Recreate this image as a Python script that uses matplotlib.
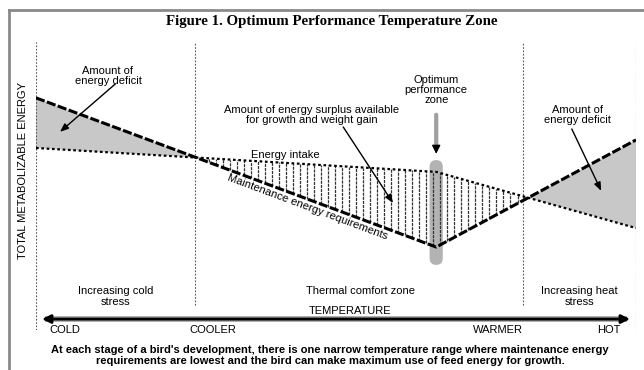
import numpy as np
import matplotlib.pyplot as plt
from matplotlib.patches import FancyBboxPatch

# temperature scale 0 (cold) .. 100 (hot), energy scale 0 .. 100
temp_pts = [0, 66.7, 100]
maintenance = [80.6, 28.8, 66.0]
intake = [63.2, 54.9, 35.4]

zone_edges = [0, 26.5, 81.2, 100]
zone_names = ["Increasing cold\nstress", "Thermal comfort zone", "Increasing heat\nstress"]
temp_labels = ["COLD", "COOLER", "WARMER", "HOT"]
temp_label_x = [4.8, 29.5, 77.0, 95.5]
optimum = 66.7

plt.rcParams['font.family'] = ['Liberation Sans Narrow', 'Liberation Sans', 'DejaVu Sans']

fig = plt.figure(figsize=(6.44, 3.70), dpi=100)
ax = fig.add_axes([36 / 644, 1 - 330 / 370, 600 / 644, 288 / 370])
ax.set_xlim(0, 100)
ax.set_ylim(0, 100)
ax.axis('off')

# frame
fig.add_artist(plt.Line2D([9 / 644, 1], [1 - 10 / 370] * 2, color='#8a8a8a', lw=2))
fig.add_artist(plt.Line2D([9 / 644] * 2, [0, 1 - 10 / 370], color='#8a8a8a', lw=2))

# zone boundaries
for i, x in enumerate(zone_edges):
    bottom = 0 if i in (0, len(zone_edges) - 1) else 8.7
    ax.plot([x, x], [bottom, 100], color='#555555', lw=0.8, ls=(0, (1.5, 1.5)))

# deficit shading
xs = np.linspace(0, 100, 801)
m = np.interp(xs, temp_pts, maintenance)
e = np.interp(xs, temp_pts, intake)
ax.fill_between(xs, e, m, where=(m > e), color='#c8c8c8', lw=0, zorder=1)

# optimum zone bar
ax.add_patch(FancyBboxPatch((65.6, 22.6), 2.2, 36.4, boxstyle='round,pad=0,rounding_size=1.1',
                            mutation_aspect=2.1, fc='#b3b3b3', ec='none', zorder=2))
ax.annotate('', xy=(optimum, 62.5), xytext=(optimum, 75.7),
            arrowprops=dict(arrowstyle='-', color='#a0a0a0', lw=3))
ax.annotate('', xy=(optimum, 60.2), xytext=(optimum, 64.5),
            arrowprops=dict(arrowstyle='-|>,head_length=0.5,head_width=0.25', color='black', lw=1))

# surplus hatching
hx = np.arange(27.6, 81.5, 1.17)
top = np.interp(hx, temp_pts, intake)
bot = np.interp(hx, temp_pts, maintenance)
ok = top > bot
ax.vlines(hx[ok], bot[ok], top[ok], color='#333333', lw=0.9, ls=(0, (2.5, 0.8)), zorder=3)

# lines
ax.plot(temp_pts, intake, color='black', lw=1.6, ls=(0, (1.2, 1.2)), zorder=4)
ax.plot(temp_pts, maintenance, color='black', lw=2.2, ls=(0, (3, 0.8)), zorder=4)

fs = 8
ax.text(41.5, 60.8, "Energy intake", ha='center', va='center', fontsize=fs, zorder=5)
p1 = ax.transData.transform((temp_pts[0], maintenance[0]))
p2 = ax.transData.transform((temp_pts[1], maintenance[1]))
ang = np.degrees(np.arctan2(p2[1] - p1[1], p2[0] - p1[0]))
ax.text(45.2, 42.7, "Maintenance energy requirements", ha='center', va='center',
        fontsize=fs, rotation=ang, rotation_mode='anchor', zorder=5)

arrow = dict(arrowstyle='-|>,head_length=0.5,head_width=0.2', color='black', lw=1, shrinkA=0, shrinkB=0)
ax.text(12.0, 88.2, "Amount of\nenergy deficit", ha='center', va='center', fontsize=fs, linespacing=1.0)
ax.annotate('', xy=(4.0, 68.8), xytext=(13.2, 85.4), arrowprops=arrow)
ax.text(46.0, 74.7, "Amount of energy surplus available\nfor growth and weight gain",
        ha='center', va='center', fontsize=fs, linespacing=1.0)
ax.annotate('', xy=(59.5, 44.1), xytext=(51.2, 70.5), arrowprops=arrow)
ax.text(optimum, 83.5, "Optimum\nperformance\nzone", ha='center', va='center', fontsize=fs, linespacing=1.0)
ax.text(90.3, 74.7, "Amount of\nenergy deficit", ha='center', va='center', fontsize=fs, linespacing=1.0)
ax.annotate('', xy=(94.2, 48.3), xytext=(89.3, 69.8), arrowprops=arrow)

# zones and temperature axis
for i, name in enumerate(zone_names):
    cx = (zone_edges[i] + zone_edges[i + 1]) / 2
    if i == 1:
        cx = 54.0
    ax.text(cx, 11.5 if '\n' in name else 13.5, name, ha='center', va='center',
            fontsize=fs, linespacing=1.1)
ax.plot([1.5, 98.5], [3.8, 3.8], color='#9a9a9a', lw=4, solid_capstyle='butt', zorder=1)
ax.annotate('', xy=(99.0, 3.8), xytext=(1.0, 3.8),
            arrowprops=dict(arrowstyle='<|-|>,head_length=0.5,head_width=0.25', color='black', lw=2,
                            shrinkA=0, shrinkB=0), zorder=2)
ax.text(52.3, 6.6, "TEMPERATURE", ha='center', va='center', fontsize=fs)
for lab, x in zip(temp_labels, temp_label_x):
    ax.text(x, 0, lab, ha='center', va='center', fontsize=fs)

fig.text(332 / 644, 1 - 22 / 370, "Figure 1. Optimum Performance Temperature Zone",
         ha='center', va='center', fontsize=10.7, fontweight='bold', family='Liberation Serif')
fig.text(23 / 644, 1 - 170 / 370, "TOTAL METABOLIZABLE ENERGY", rotation=90,
         ha='center', va='center', fontsize=fs)
fig.text(330 / 644, 1 - 355.5 / 370,
         "At each stage of a bird's development, there is one narrow temperature range where maintenance energy\n"
         "requirements are lowest and the bird can make maximum use of feed energy for growth.",
         ha='center', va='center', fontsize=8, fontweight='bold', linespacing=1.05)

fig.savefig('out.png', dpi=100)
